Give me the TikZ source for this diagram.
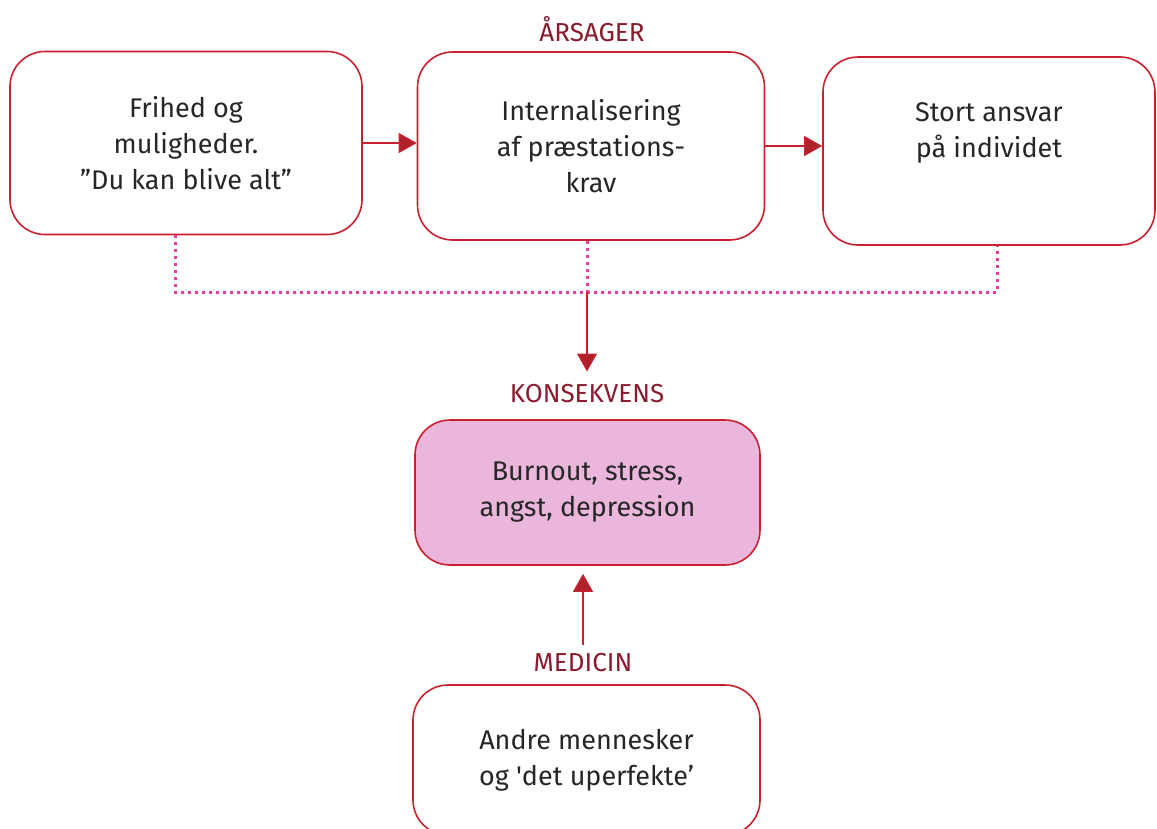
\documentclass[tikz,border=0pt]{standalone}
\usepackage{fontspec}
\setmainfont{Fira Sans}
\usetikzlibrary{arrows.meta}
\definecolor{boxred}{HTML}{C8202F}
\definecolor{labred}{HTML}{8A1A2C}
\definecolor{tipred}{HTML}{B02129}
\definecolor{dotpink}{HTML}{EC3A9E}
\definecolor{konspink}{HTML}{EBB6DC}
\tikzset{
  box/.style = {draw=boxred, line width=1.6pt, rounded corners=35pt, align=center,
    font=\fontsize{27}{36}\selectfont, text=black!85},
  lbl/.style = {font=\fontsize{26}{28}\selectfont, text=labred, inner sep=3pt},
  arr/.style = {draw=boxred, line width=1.3pt, -{Triangle[width=20pt,length=18pt,fill=tipred]}},
  dotline/.style = {draw=dotpink, line width=3pt, dash pattern=on 3pt off 4pt}
}
\begin{document}
\begin{tikzpicture}[x=1pt, y=-1pt]
      \useasboundingbox (0,0) rectangle (1157,828);
      \clip (0,0) rectangle (1157,828);

      \node[lbl] (lblaars) at (592,29) {ÅRSAGER};
      \node[box, minimum width=352pt, minimum height=183pt] (frihed) at (186,143)
        {Frihed og\\muligheder.\\”Du kan blive alt”};
      \node[box, minimum width=347pt, minimum height=188pt] (intern) at (591,146)
        {Internalisering\\af præstations-\\krav};
      \node[box, minimum width=332pt, minimum height=188pt, text depth=41pt] (ansvar) at (989,151)
        {Stort ansvar\\på individet};

      \draw[arr] (frihed.east) -- (frihed.east -| intern.west);
      \draw[arr] (intern.east) -- (intern.east -| ansvar.west);

      \coordinate (bus) at (587,292);
      \draw[dotline] ([xshift=-11pt]frihed.south) |- (bus) -| ([xshift=8pt]ansvar.south);
      \draw[dotline] ([xshift=-4pt]intern.south) -- (bus);

      \node[lbl] (lblkons) at (587,394) {KONSEKVENS};
      \draw[arr, shorten >=10pt] (bus) -- (lblkons.north);

      \node[box, fill=konspink, minimum width=345pt, minimum height=145pt] (burnout) at (587.5,492.5)
        {Burnout, stress,\\angst, depression};

      \node[lbl] (lblmed) at (583,663) {MEDICIN};
      \draw[arr, shorten <=6pt, shorten >=8pt] (lblmed.north) -- (lblmed.north |- burnout.south);

      \node[box, minimum width=347pt, minimum height=150pt] (andre) at (586.5,760)
        {Andre mennesker\\og \textquotesingle det uperfekte'};
    \end{tikzpicture}
\end{document}
